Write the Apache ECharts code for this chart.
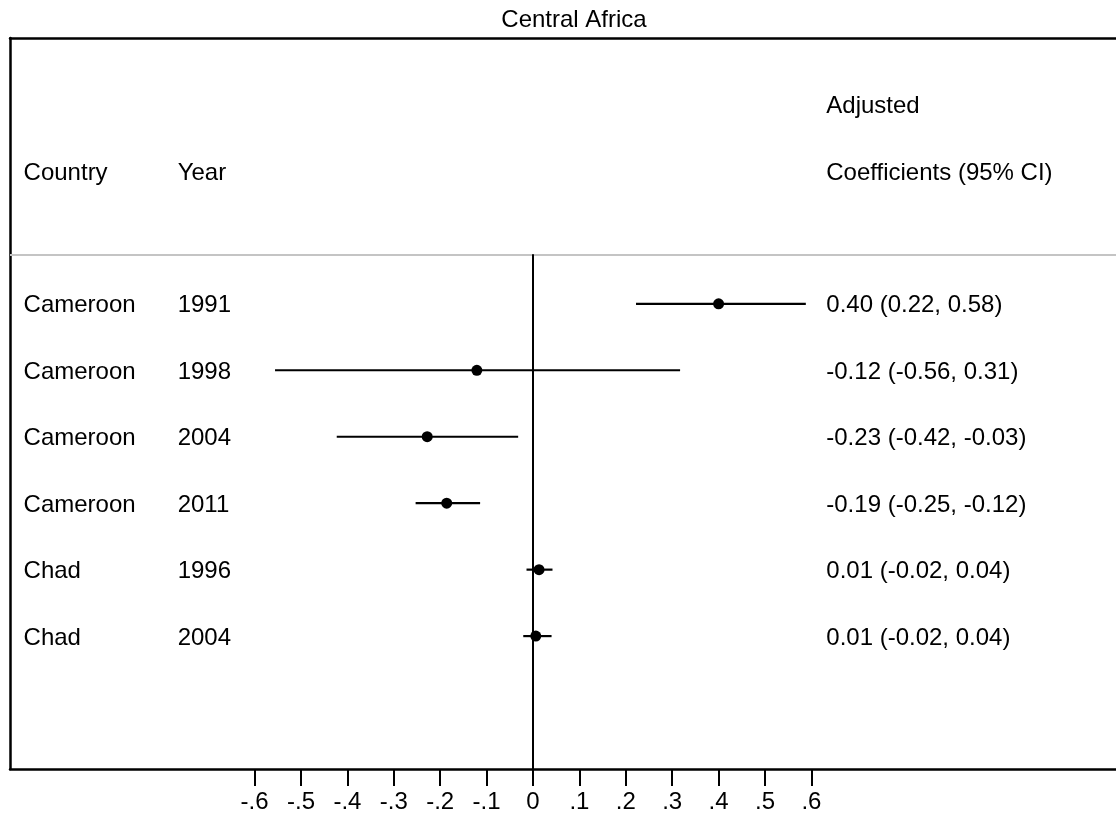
<!DOCTYPE html>
<html>
<head>
<meta charset="utf-8">
<script src="https://cdn.jsdelivr.net/npm/echarts@6/dist/echarts.min.js"></script>
<style>
  html, body { margin: 0; padding: 0; background: #fff; }
  #chart { width: 1116px; height: 816px; }
</style>
</head>
<body>
<div id="chart"></div>
<script>
// ---- data ----
const countries = ['Cameroon', 'Cameroon', 'Cameroon', 'Cameroon', 'Chad', 'Chad'];
const years = ['1991', '1998', '2004', '2011', '1996', '2004'];
const coef = [0.400, -0.121, -0.228, -0.186, 0.013, 0.006];
const ciLow = [0.222, -0.556, -0.423, -0.253, -0.014, -0.021];
const ciHigh = [0.588, 0.317, -0.032, -0.114, 0.042, 0.040];
const coefLabels = ['0.40 (0.22, 0.58)', '-0.12 (-0.56, 0.31)', '-0.23 (-0.42, -0.03)',
                    '-0.19 (-0.25, -0.12)', '0.01 (-0.02, 0.04)', '0.01 (-0.02, 0.04)'];
const tickValues = [-0.6, -0.5, -0.4, -0.3, -0.2, -0.1, 0, 0.1, 0.2, 0.3, 0.4, 0.5, 0.6];
const tickLabels = ['-.6', '-.5', '-.4', '-.3', '-.2', '-.1', '0', '.1', '.2', '.3', '.4', '.5', '.6'];
const headerCountry = 'Country';
const headerYear = 'Year';
const headerCoef1 = 'Adjusted';
const headerCoef2 = 'Coefficients (95% CI)';
const chartTitle = 'Central Africa';

// ---- layout ----
const FONT = "'Liberation Sans', Arial, sans-serif";
const FS = 24;
const xMin = -1.1272, xMax = 1.2565;
const yMin = 0, yMax = 11;
const rowStart = 4;           // first data row position on the row axis
const colCountry = -1.099, colYear = -0.767, colCoef = 0.631;
const headerRow = 2, headerRowTop = 1;
const sepRow = 3.255;

const rowY = countries.map((_, i) => rowStart + i);

const textData = [];
countries.forEach((c, i) => textData.push([colCountry, rowY[i], c]));
years.forEach((y, i) => textData.push([colYear, rowY[i], y]));
coefLabels.forEach((t, i) => textData.push([colCoef, rowY[i], t]));
textData.push([colCountry, headerRow, headerCountry]);
textData.push([colYear, headerRow, headerYear]);
textData.push([colCoef, headerRowTop, headerCoef1]);
textData.push([colCoef, headerRow, headerCoef2]);

const chart = echarts.init(document.getElementById('chart'), null, { renderer: 'canvas' });
chart.setOption({
  animation: false,
  backgroundColor: '#fff',
  title: {
    text: chartTitle,
    left: 569,
    textAlign: 'center',
    top: 3,
    textStyle: { fontFamily: FONT, fontSize: FS, fontWeight: 'normal', color: '#000' }
  },
  grid: { left: 10, right: 0, top: 38, bottom: 47, containLabel: false },
  xAxis: [{
    type: 'value', min: xMin, max: xMax, position: 'bottom',
    axisLine: { show: true, onZero: false, lineStyle: { color: '#000', width: 2.5 } },
    axisTick: { show: true, customValues: tickValues, length: 17, lineStyle: { color: '#000', width: 2 } },
    axisLabel: {
      show: true, customValues: tickValues, margin: 21,
      formatter: v => tickLabels[tickValues.findIndex(t => Math.abs(t - v) < 1e-9)],
      fontFamily: FONT, fontSize: FS, color: '#000'
    },
    splitLine: { show: false }
  }, {
    type: 'value', min: xMin, max: xMax, position: 'top',
    axisLine: { show: true, onZero: false, lineStyle: { color: '#000', width: 2.5 } },
    axisTick: { show: false }, axisLabel: { show: false }, splitLine: { show: false }
  }],
  yAxis: {
    type: 'value', min: yMin, max: yMax, inverse: true,
    axisLine: { show: true, onZero: false, lineStyle: { color: '#000', width: 2.5 } },
    axisTick: { show: false }, axisLabel: { show: false }, splitLine: { show: false }
  },
  series: [
    {
      type: 'custom',
      name: 'ci',
      silent: true,
      data: ciLow.map((lo, i) => [lo, ciHigh[i], rowY[i]]),
      renderItem: (params, api) => {
        const p1 = api.coord([api.value(0), api.value(2)]);
        const p2 = api.coord([api.value(1), api.value(2)]);
        return {
          type: 'line',
          shape: { x1: p1[0], y1: p1[1], x2: p2[0], y2: p2[1] },
          style: { stroke: '#000', lineWidth: 2.2 }
        };
      },
      markLine: {
        silent: true, symbol: 'none', label: { show: false },
        data: [
          [{ coord: [xMin, sepRow] }, { coord: [xMax, sepRow] }],
        ],
        lineStyle: { color: '#c4c4c4', width: 2, type: 'solid', opacity: 1 }
      },
      z: 3
    },
    {
      type: 'scatter',
      name: 'zero',
      silent: true,
      data: [],
      markLine: {
        silent: true, symbol: 'none', label: { show: false },
        data: [[{ coord: [0, sepRow] }, { coord: [0, yMax] }]],
        lineStyle: { color: '#000', width: 2, type: 'solid', opacity: 1 }
      },
      z: 2
    },
    {
      type: 'scatter',
      name: 'coef',
      silent: true,
      symbol: 'circle',
      symbolSize: 11,
      itemStyle: { color: '#000', opacity: 1 },
      data: coef.map((c, i) => [c, rowY[i]]),
      z: 5
    },
    {
      type: 'scatter',
      name: 'text',
      silent: true,
      symbolSize: 1,
      itemStyle: { color: 'rgba(255,255,255,0)', opacity: 1 },
      data: textData,
      label: {
        show: true, position: 'right', distance: 0, offset: [0, 2],
        formatter: p => p.data[2],
        fontFamily: FONT, fontSize: FS, color: '#000', opacity: 1
      },
      z: 6
    }
  ]
});
</script>
</body>
</html>
